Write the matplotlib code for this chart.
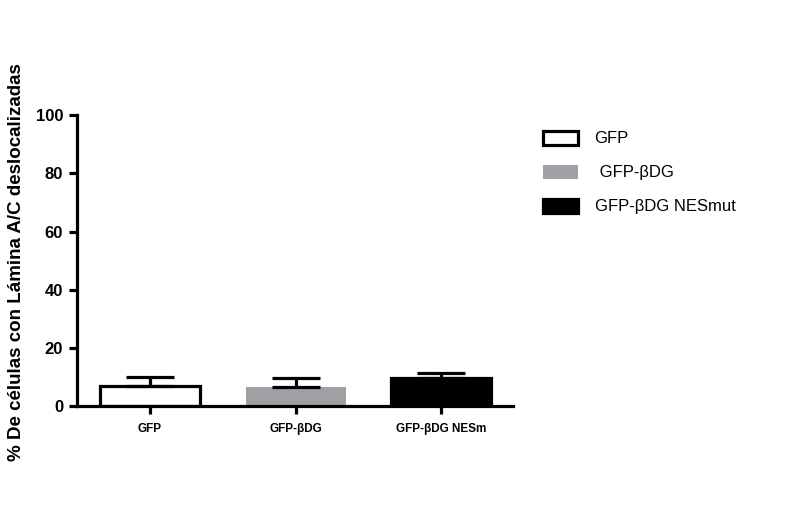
import matplotlib
matplotlib.use("Agg")
from matplotlib import pyplot as plt

plt.rcParams['font.family'] = ['Liberation Sans', 'DejaVu Sans']

# data
groups = ["GFP", "GFP-βDG", "GFP-βDG NESm"]
legend_names = ["GFP", " GFP-βDG", "GFP-βDG NESmut"]
means = [7.0, 6.5, 9.5]
sem = [3.1, 3.3, 1.8]
face = ["white", "#a0a0a4", "black"]
edge = ["black", "#a0a0a4", "black"]
yticks = [0, 20, 40, 60, 80, 100]

fig = plt.figure(figsize=(7.95, 5.12), dpi=100)
ax = fig.add_axes([0.097, 0.207, 0.548, 0.568])

lw = 2.3
x = list(range(len(groups)))
bars = ax.bar(x, means, width=0.685, color=face, edgecolor=edge,
              linewidth=[lw, 0, lw], zorder=2)
ax.errorbar(x, means, yerr=[[0] * len(sem), sem], fmt="none", ecolor="black",
            elinewidth=lw, capsize=17, capthick=lw, zorder=3)

ax.set_xlim(-0.5, 2.49)
ax.set_ylim(0, 100)
ax.set_yticks(yticks)
ax.set_xticks(x)
ax.set_xticklabels(groups, fontsize=8.5, fontweight="bold")
for lab in ax.get_yticklabels():
    lab.set_fontsize(12)
    lab.set_fontweight("bold")

for s in ["top", "right"]:
    ax.spines[s].set_visible(False)
for s in ["left", "bottom"]:
    ax.spines[s].set_linewidth(lw)
ax.tick_params(axis="both", width=lw, length=6, direction="out")
ax.tick_params(axis="x", pad=6)
ax.tick_params(axis="y", pad=4)

fig.text(0.021, 0.488, "% De células con Lámina A/C deslocalizadas",
         rotation=90, ha="center", va="center", fontsize=13.5, fontweight="bold")

leg = fig.legend(bars, legend_names, loc="upper left",
                 bbox_to_anchor=(0.664, 0.774), frameon=False, fontsize=12,
                 handlelength=2.1, handleheight=0.9, labelspacing=1.1,
                 handletextpad=1.0)

fig.savefig("out.png", dpi=100)
